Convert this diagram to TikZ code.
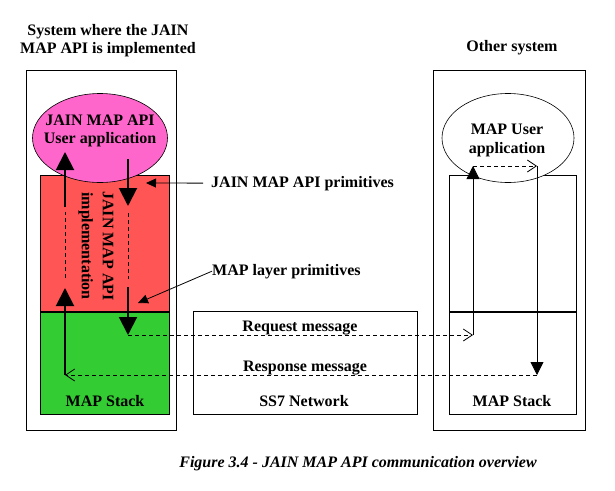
\documentclass[tikz,border=0pt]{standalone}
\usepackage{fontspec}
\setmainfont{Liberation Serif}
\usetikzlibrary{arrows.meta}
\usetikzlibrary{shapes.geometric}
\definecolor{implred}{RGB}{255,85,85}
\definecolor{stackgreen}{RGB}{51,204,51}
\definecolor{userpink}{RGB}{255,102,204}
\tikzset{
  txt/.style={font=\fontsize{16}{18}\selectfont\bfseries, inner sep=0pt, align=center},
  box/.style={draw, line width=0.8pt, anchor=north west, inner sep=0pt},
  user/.style={draw, ellipse, line width=0.6pt, inner sep=0pt, minimum width=135pt, minimum height=89pt},
  sepline/.style={line width=1.8pt},
  bigflow/.style={line width=2pt, -{Triangle[length=18pt,width=18pt]}},
  smallflow/.style={line width=0.8pt, -{Triangle[length=13pt,width=13pt]}},
  dashpart/.style={line width=0.8pt, dash pattern=on 4pt off 3pt},
  msgline/.style={line width=0.8pt, dash pattern=on 4pt off 3pt, -{Straight Barb[length=9pt,width=12pt]}},
  callout/.style={line width=0.8pt, -{Triangle[length=10pt,width=9pt]}}
}
\begin{document}
\begin{tikzpicture}[x=1pt,y=-1pt]
  \useasboundingbox (0,0) rectangle (615,490);
  % outer systems
  \node[box, minimum width=150pt, minimum height=360pt] (sysL) at (26,70) {} ; %
  \node[box, minimum width=152pt, minimum height=360pt] (sysR) at (433,70) {} ; %
  \node[txt] (titleL) at (108,41) {System where the JAIN\\MAP API is implemented} ; %
  \node[txt, anchor=base] (titleR) at (512,51) {Other system} ; %
  % left system
  \node[box, fill=implred, minimum width=129pt, minimum height=136pt] (implL) at (40,175) {} ; %
  \node[box, fill=stackgreen, minimum width=129pt, minimum height=103pt] (stackL) at (40,311) {} ; %
  \draw[sepline] (implL.south west) -- (implL.south east) ; %
  \node[user, fill=userpink] (userL) at (100,138) {} ; %
  \node[txt, anchor=base] (userLa) at (100,125) {JAIN MAP API} ; %
  \node[txt, anchor=base] (userLb) at (100,143) {User application} ; %
  \node[txt, rotate=-90, font=\fontsize{16}{21}\selectfont\bfseries] (implLt) at (96,246) {JAIN MAP API\\implementation} ; %
  \node[txt, anchor=base] (stackLt) at (105,406) {MAP Stack} ; %
  % right system
  \node[box, minimum width=127pt, minimum height=136pt] (implR) at (449,175) {} ; %
  \node[box, minimum width=127pt, minimum height=103pt] (stackR) at (449,311) {} ; %
  \draw[sepline] (implR.south west) -- (implR.south east) ; %
  \node[user, fill=white, minimum width=132pt] (userR) at (508,138) {} ; %
  \node[txt, anchor=base] (userRa) at (507,134) {MAP User} ; %
  \node[txt, anchor=base] (userRb) at (507,153) {application} ; %
  \node[txt, anchor=base] (stackRt) at (512,406) {MAP Stack} ; %
  % network
  \node[box, minimum width=224pt, minimum height=103pt] (ss7) at (193,311) {} ; %
  \node[txt, anchor=base] (reqt) at (300,331) {Request message} ; %
  \node[txt, anchor=base] (respt) at (305,371) {Response message} ; %
  \node[txt, anchor=base] (ss7t) at (304,406) {SS7 Network} ; %
  % flow points
  \coordinate (up0) at (65,375) ; \coordinate (up1) at (65,288) ; %
  \coordinate (up2) at (65,278) ; \coordinate (up3) at (65,212) ; %
  \coordinate (up4) at (65,207) ; \coordinate (up5) at (65,152) ; %
  \coordinate (dn0) at (128,159) ; \coordinate (dn1) at (128,206) ; %
  \coordinate (dn2) at (128,213) ; \coordinate (dn3) at (128,279) ; %
  \coordinate (dn4) at (128,287) ; \coordinate (dn5) at (128,335) ; %
  \coordinate (rq) at (473,335) ; \coordinate (rqtop) at (473,166) ; %
  \coordinate (rp) at (537,166) ; \coordinate (rpbot) at (537,375) ; %
  % left primitives
  \draw[bigflow] (dn0) -- (dn1) ; %
  \draw[dashpart] (dn2) -- (dn3) ; %
  \draw[bigflow] (dn4) -- (dn5) ; %
  \draw[bigflow] (up0) -- (up1) ; %
  \draw[dashpart] (up2) -- (up3) ; %
  \draw[bigflow] (up4) -- (up5) ; %
  % messages
  \draw[msgline] (dn5) -- (rq) ; %
  \draw[smallflow] (rq) -- (rqtop) ; %
  \draw[msgline] (rqtop) -- (rp) ; %
  \draw[smallflow] (rp) -- (rpbot) ; %
  \draw[msgline] (rpbot) -- (up0) ; %
  % callouts
  \node[txt, anchor=base west] (apiprim) at (211,187) {JAIN MAP API primitives} ; %
  \node[txt, anchor=base west] (mapprim) at (212,275) {MAP layer primitives} ; %
  \coordinate (apitip) at (146,183) ; \coordinate (maptip) at (138,303) ; %
  \draw[callout, shorten <=8pt] (apiprim.west) -- (apitip) ; %
  \draw[callout] (mapprim.west) -- (maptip) ; %
  \node[txt, anchor=base, font=\fontsize{16}{18}\selectfont\bfseries\itshape] (caption) at (358,467) {Figure 3.4 - JAIN MAP API communication overview} ; %
\end{tikzpicture}
\end{document}
